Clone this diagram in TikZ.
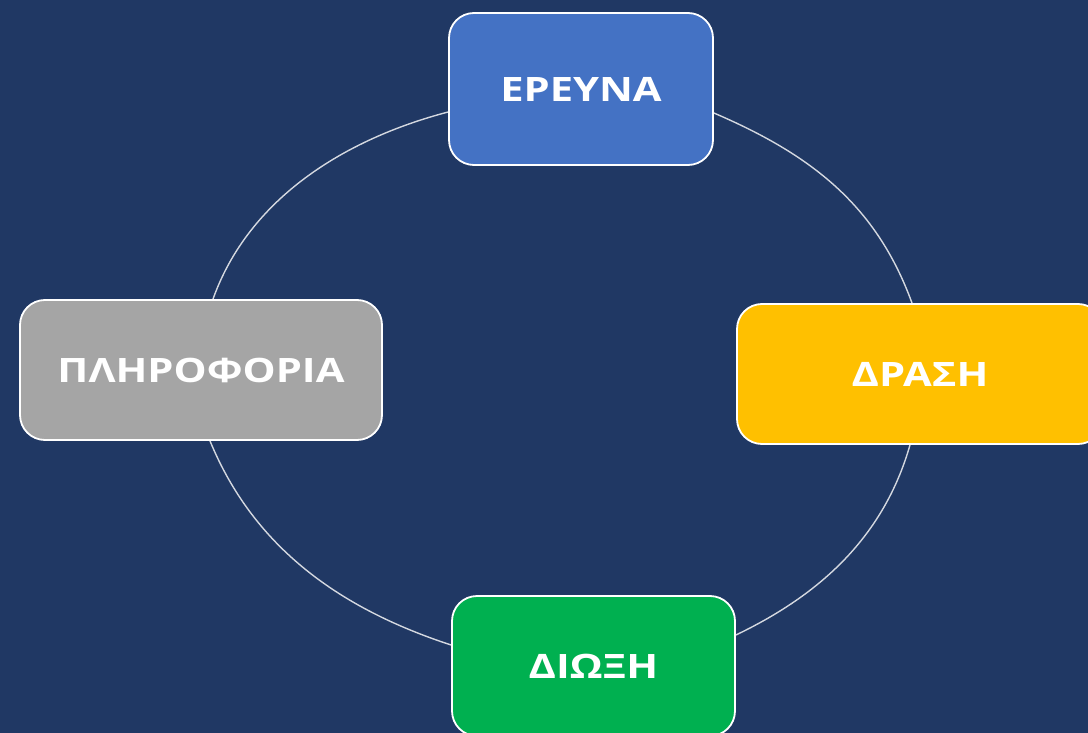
\documentclass[tikz,border=0pt]{standalone}
\usepackage{fontspec}
\usepackage{graphicx}
\newfontfamily\boxfont{Open Sans}
\usetikzlibrary{backgrounds}
\definecolor{bgnavy}{RGB}{32,56,100}
\definecolor{cblue}{RGB}{68,114,196}
\definecolor{cgray}{RGB}{165,165,165}
\definecolor{cyellow}{RGB}{255,192,0}
\definecolor{cgreen}{RGB}{0,176,80}
\definecolor{cline}{RGB}{212,216,224}
\newcommand\stretchtxt[1]{\scalebox{1.24}[1]{#1}}
\begin{document}
\begin{tikzpicture}[x=1pt,y=-1pt,
  box/.style={draw=white,line width=1.8pt,rounded corners=25pt,text=white,
    font=\boxfont\bfseries\fontsize{33.6}{40}\selectfont,inner sep=0pt},
  cyc/.style={draw=cline,line width=1.4pt}]
\useasboundingbox (0,0) rectangle (1088,733);
\clip (0,0) rectangle (1088,733);
\node[box,fill=cblue,minimum width=264pt,minimum height=152pt] (t) at (581,89) {\stretchtxt{ΕΡΕΥΝΑ}};
\node[box,fill=cgray,minimum width=362pt,minimum height=140pt] (l) at (201,370) {\stretchtxt{ΠΛΗΡΟΦΟΡΙΑ}};
\node[box,fill=cyellow,minimum width=366pt,minimum height=140pt] (r) at (920,374) {\stretchtxt{ΔΡΑΣΗ}};
\node[box,fill=cgreen,minimum width=283pt,minimum height=140pt] (b) at (593.5,666) {\stretchtxt{ΔΙΩΞΗ}};
\begin{scope}[on background layer]
\fill[bgnavy] (0,0) rectangle (1088,733);
\draw[cyc] (t.west |- 0,112) .. controls +(-103,27) and +(36,-101) .. (l.north -| 213,0);
\draw[cyc] (t.east |- 0,113) .. controls +(96.5,41.4) and +(-35.9,-98.7) .. (r.north -| 912,0);
\draw[cyc] (l.south -| 210,0) .. controls +(44.1,107.3) and +(-110.2,-36) .. (b.west |- 0,645);
\draw[cyc] (r.south -| 910,0) .. controls +(-26,91) and +(85.5,-40.9) .. (b.east |- 0,635);
\end{scope}
\end{tikzpicture}
\end{document}
